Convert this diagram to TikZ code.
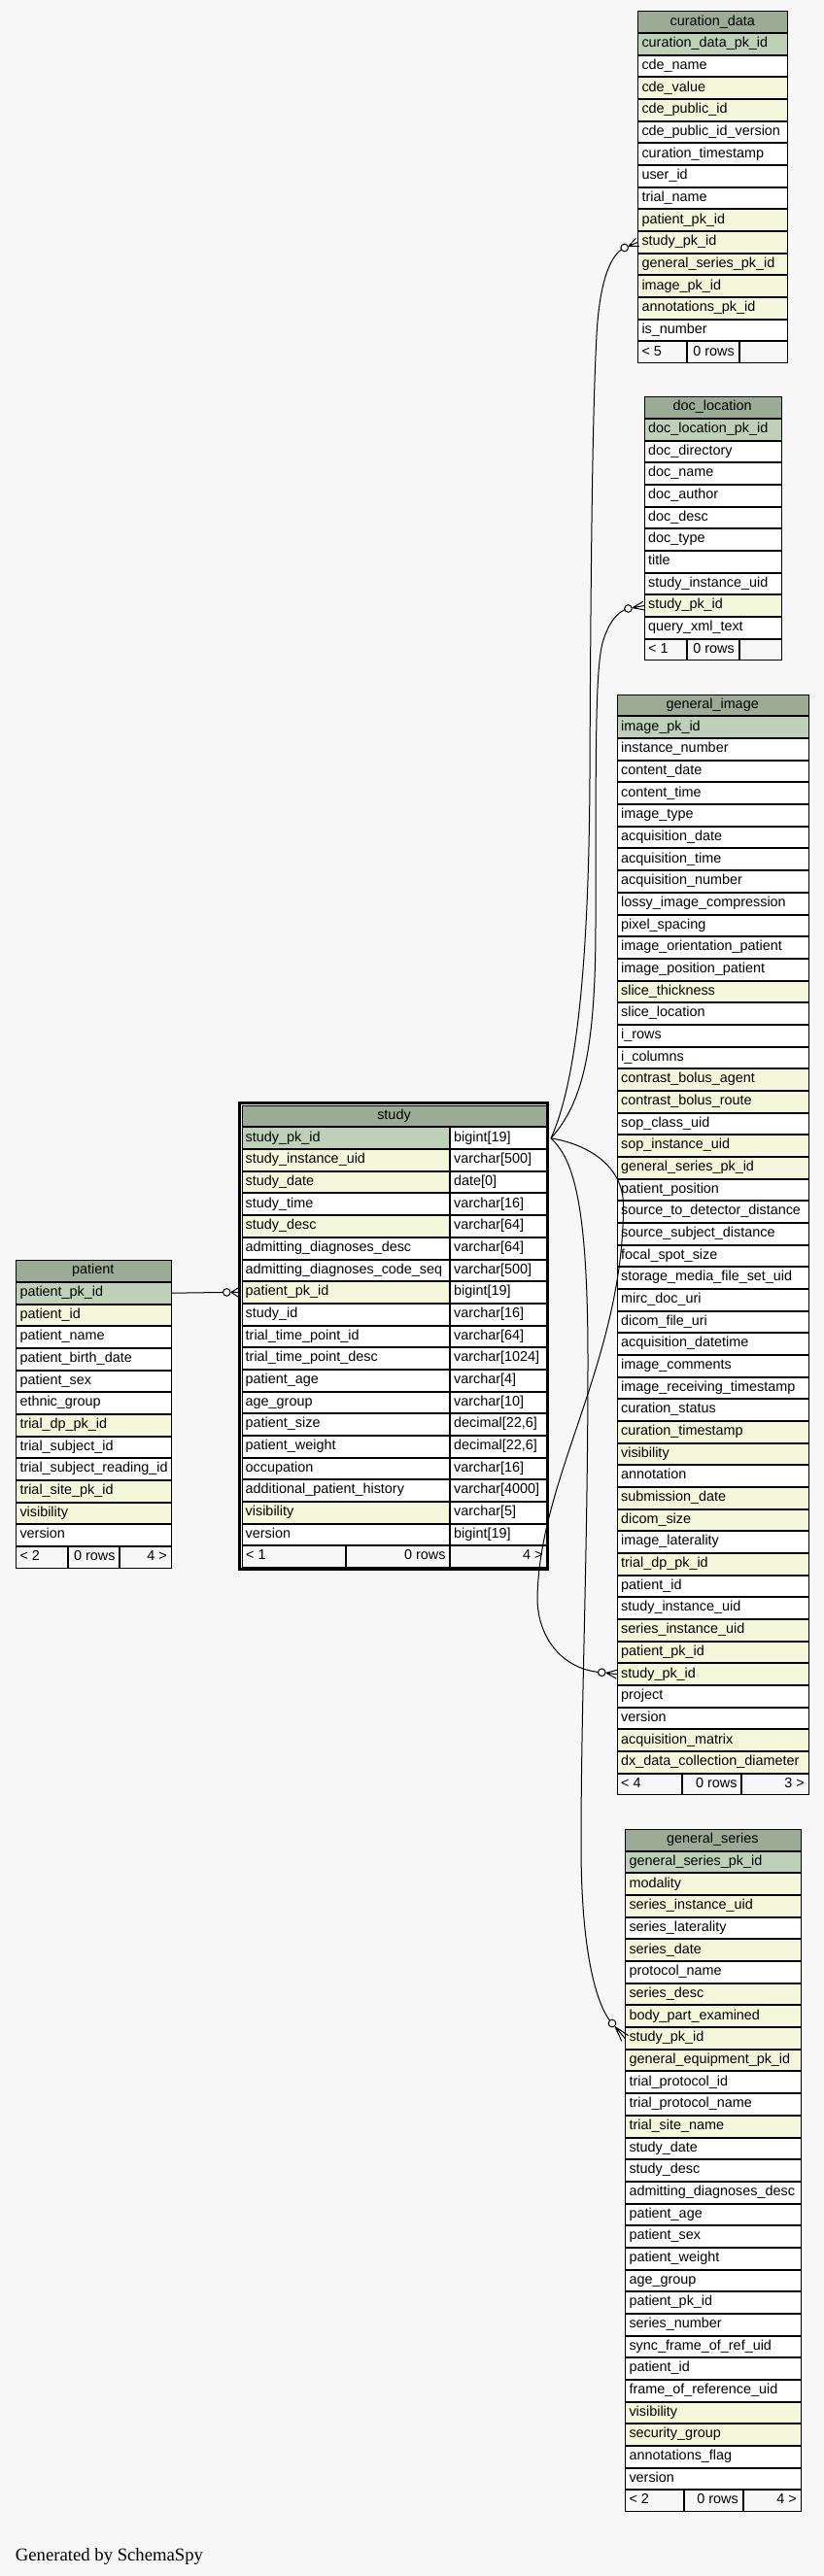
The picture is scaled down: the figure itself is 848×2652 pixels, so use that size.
\documentclass[tikz,border=0pt]{standalone}
\usepackage{fontspec}
\setmainfont{Liberation Sans}
\newfontfamily\firmafont{Liberation Serif}
\usetikzlibrary{calc}

\definecolor{sfondo}{HTML}{F7F7F7}
\definecolor{testa}{HTML}{9BAB96}
\definecolor{pk}{HTML}{BED1B8}
\definecolor{idx}{HTML}{F4F7DA}
\definecolor{bianco}{HTML}{FFFFFF}

\tikzset{
  cella/.style={draw=black, line width=1pt, anchor=north west, inner sep=0pt, minimum height=21.67pt},
  voce/.style={anchor=base west, inner sep=0pt, font=\fontsize{14.4}{16}\selectfont},
  legame/.style={draw=black, line width=1pt},
}

\newcommand{\altezza}{22.67}

% tabella: nome, titolo, x sinistra, larghezza, y alto, righe colore/campo
\newcommand{\tabella}[6]{
  \node[cella, fill=testa, minimum width=#4-1] (#1-0) at (#3+0.5,#5+0.5) {};
  \node[voce, anchor=base] at (#3+#4/2,#5+15.2) {#2};
  \foreach \colore/\campo [count=\i] in {#6}{
    \node[cella, fill=\colore, minimum width=#4-1] (#1-\i) at (#3+0.5,#5+0.5+\i*\altezza) {};
    \node[voce] at (#3+4.6,#5+15.2+\i*\altezza) {\campo};
  }
}

% piede: nome, x0, x1, x2, x3, y, testi
\newcommand{\piede}[9]{
  \node[cella, fill=sfondo, minimum width=#3-#2-1] (#1-pa) at (#2+0.5,#6+0.5) {};
  \node[cella, fill=sfondo, minimum width=#4-#3-1] (#1-pb) at (#3+0.5,#6+0.5) {};
  \node[cella, fill=sfondo, minimum width=#5-#4-1] (#1-pc) at (#4+0.5,#6+0.5) {};
  \node[voce] at (#2+4.6,#6+15.2) {#7};
  \node[voce, anchor=base east] at (#4-4,#6+15.2) {#8};
  \node[voce, anchor=base east] at (#5-4,#6+15.2) {#9};
}

% zampa di gallina con cerchio: centro cerchio, punto sul bordo
\newcommand{\zampa}[2]{
  \draw[legame] ($(#1)!4.6pt!(#2)$) -- ($(#2)!4.5pt!90:(#1)$)
                ($(#1)!4.6pt!(#2)$) -- ($(#2)!4.5pt!-90:(#1)$)
                ($(#1)!4.6pt!(#2)$) -- (#2);
  \draw[legame, fill=sfondo] (#1) circle[radius=3.8pt];
}

\begin{document}
\begin{tikzpicture}[x=1pt,y=-1pt]
    \fill[sfondo] (0,0) rectangle (848,2652);

    \tabella{cur}{curation\_data}{655.7}{155}{10.9}{pk/curation\_data\_pk\_id, bianco/cde\_name,
      idx/cde\_value, idx/cde\_public\_id, bianco/cde\_public\_id\_version, bianco/curation\_timestamp,
      bianco/user\_id, bianco/trial\_name, idx/patient\_pk\_id, idx/study\_pk\_id,
      idx/general\_series\_pk\_id, idx/image\_pk\_id, idx/annotations\_pk\_id, bianco/is\_number}
    \piede{cur}{655.7}{706.7}{760}{810.7}{350.95}{< 5}{0 rows}{}

    \tabella{doc}{doc\_location}{662.3}{141.7}{407.7}{pk/doc\_location\_pk\_id, bianco/doc\_directory,
      bianco/doc\_name, bianco/doc\_author, bianco/doc\_desc, bianco/doc\_type, bianco/title,
      bianco/study\_instance\_uid, idx/study\_pk\_id, bianco/query\_xml\_text}
    \piede{doc}{662.3}{706.7}{760}{804}{657.07}{< 1}{0 rows}{}

    \tabella{gim}{general\_image}{634.3}{197.7}{714.3}{pk/image\_pk\_id, bianco/instance\_number,
      bianco/content\_date, bianco/content\_time, bianco/image\_type, bianco/acquisition\_date,
      bianco/acquisition\_time, bianco/acquisition\_number, bianco/lossy\_image\_compression,
      bianco/pixel\_spacing, bianco/image\_orientation\_patient, bianco/image\_position\_patient,
      idx/slice\_thickness, bianco/slice\_location, bianco/i\_rows, bianco/i\_columns,
      idx/contrast\_bolus\_agent, idx/contrast\_bolus\_route, bianco/sop\_class\_uid,
      idx/sop\_instance\_uid, idx/general\_series\_pk\_id, bianco/patient\_position,
      bianco/source\_to\_detector\_distance, bianco/source\_subject\_distance, bianco/focal\_spot\_size,
      bianco/storage\_media\_file\_set\_uid, bianco/mirc\_doc\_uri, bianco/dicom\_file\_uri,
      bianco/acquisition\_datetime, bianco/image\_comments, bianco/image\_receiving\_timestamp,
      bianco/curation\_status, idx/curation\_timestamp, idx/visibility, bianco/annotation,
      idx/submission\_date, idx/dicom\_size, bianco/image\_laterality, idx/trial\_dp\_pk\_id,
      bianco/patient\_id, bianco/study\_instance\_uid, idx/series\_instance\_uid, idx/patient\_pk\_id,
      idx/study\_pk\_id, bianco/project, bianco/version, idx/acquisition\_matrix,
      idx/dx\_data\_collection\_diameter}
    \piede{gim}{634.3}{701}{762.7}{832}{1825.1}{< 4}{0 rows}{3 >}

    \tabella{gse}{general\_series}{642.7}{181.3}{1882.6}{pk/general\_series\_pk\_id, idx/modality,
      idx/series\_instance\_uid, bianco/series\_laterality, idx/series\_date, bianco/protocol\_name,
      idx/series\_desc, idx/body\_part\_examined, idx/study\_pk\_id, idx/general\_equipment\_pk\_id,
      bianco/trial\_protocol\_id, bianco/trial\_protocol\_name, idx/trial\_site\_name,
      bianco/study\_date, bianco/study\_desc, bianco/admitting\_diagnoses\_desc, bianco/patient\_age,
      bianco/patient\_sex, bianco/patient\_weight, bianco/age\_group, bianco/patient\_pk\_id,
      bianco/series\_number, bianco/sync\_frame\_of\_ref\_uid, bianco/patient\_id,
      bianco/frame\_of\_reference\_uid, idx/visibility, idx/security\_group,
      bianco/annotations\_flag, bianco/version}
    \piede{gse}{642.7}{703.3}{764}{824}{2562.7}{< 2}{0 rows}{4 >}

    \tabella{pat}{patient}{15.7}{160.3}{1296.7}{pk/patient\_pk\_id, idx/patient\_id,
      bianco/patient\_name, bianco/patient\_birth\_date, bianco/patient\_sex, bianco/ethnic\_group,
      idx/trial\_dp\_pk\_id, bianco/trial\_subject\_id, bianco/trial\_subject\_reading\_id,
      idx/trial\_site\_pk\_id, idx/visibility, bianco/version}
    \piede{pat}{15.7}{69}{122.7}{176}{1591.4}{< 2}{0 rows}{4 >}

    %tabella study
    \draw[line width=3pt] (246.5,1135.8) rectangle (563.5,1615.2);
    \node[cella, fill=testa, minimum width=313.4] (stu-0) at (248.8,1137.8) {};
    \node[voce, anchor=base] at (405.5,1152.5) {study};
    \foreach \colore/\campo/\tipodato [count=\i] in {pk/study\_pk\_id/bigint[19],
      idx/study\_instance\_uid/varchar[500], idx/study\_date/date[0], bianco/study\_time/varchar[16],
      idx/study\_desc/varchar[64], bianco/admitting\_diagnoses\_desc/varchar[64],
      bianco/admitting\_diagnoses\_code\_seq/varchar[500], idx/patient\_pk\_id/bigint[19],
      bianco/study\_id/varchar[16], bianco/trial\_time\_point\_id/varchar[64],
      bianco/trial\_time\_point\_desc/varchar[1024], bianco/patient\_age/varchar[4],
      bianco/age\_group/varchar[10], bianco/patient\_size/{decimal[22,6]},
      bianco/patient\_weight/{decimal[22,6]}, bianco/occupation/varchar[16],
      bianco/additional\_patient\_history/varchar[4000], idx/visibility/varchar[5],
      bianco/version/bigint[19]}{
      \node[cella, fill=\colore, minimum width=213.4] (stu-\i) at (248.8,1137.8+\i*\altezza) {};
      \node[cella, fill=bianco, minimum width=99] (stuT-\i) at (463.2,1137.8+\i*\altezza) {};
      \node[voce] at (252.5,1152.5+\i*\altezza) {\campo};
      \node[voce] at (467,1152.5+\i*\altezza) {\tipodato};
    }
    \piede{stu}{248.3}{355.7}{462.7}{562.7}{1590.7}{< 1}{0 rows}{4 >}

    %legami
    \coordinate (origine) at ([xshift=3.8pt]stuT-1.east);
    \coordinate (ingresso) at ([xshift=-3.8pt]stu-8.west);
    \coordinate (o-cur) at (642.7,255);
    \coordinate (o-doc) at (646.5,626.5);
    \coordinate (o-gim) at (619.3,1721.7);
    \coordinate (o-gse) at (630,2083);
    \coordinate (o-stu) at (233.3,1330.4);

    \draw[legame] (origine) .. controls (595,1110) and (606,980) .. (607,800)
        .. controls (608,560) and (610,420) .. (614,345)
        .. controls (617,290) and (628,262) .. (o-cur);
    \draw[legame] (origine) .. controls (600,1135) and (613,1080) .. (613,950)
        .. controls (613,760) and (613,690) .. (620,662)
        .. controls (625,645) and (633,630) .. (o-doc);
    \draw[legame] (origine) .. controls (605,1178) and (641,1200) .. (641.5,1240)
        .. controls (642,1400) and (555,1520) .. (553,1645)
        .. controls (553,1685) and (578,1719) .. (o-gim);
    \draw[legame] (origine) .. controls (588,1192) and (605,1230) .. (605,1400)
        .. controls (605,1600) and (598,1750) .. (598,1900)
        .. controls (598,2010) and (614,2066) .. (o-gse);
    \draw[legame] (pat-1.east) -- (o-stu);

    \zampa{o-cur}{cur-10.west}
    \zampa{o-doc}{doc-9.west}
    \zampa{o-gim}{gim-44.west}
    \zampa{o-gse}{gse-9.west}
    \zampa{o-stu}{ingresso}

    \node[anchor=base west, inner sep=0pt, font=\firmafont\fontsize{18.7}{22}\selectfont] (firma)
        at (15.7,2636) {Generated by SchemaSpy};
\end{tikzpicture}
\end{document}
